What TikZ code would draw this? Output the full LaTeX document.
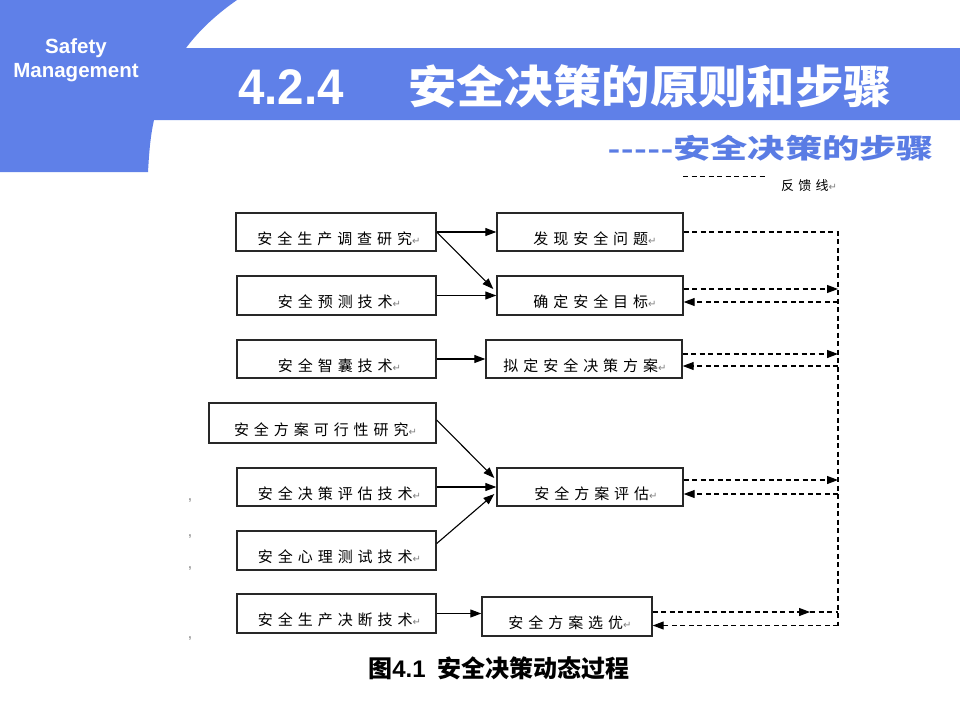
\documentclass[tikz,border=0pt]{standalone}
\usepackage{fontspec}
\setmainfont{Liberation Sans}
\newfontfamily\cjk{Noto Sans CJK SC}
\newfontfamily\cjkbox[LetterSpace=33]{Noto Sans CJK SC}
\newfontfamily\symf{DejaVu Sans}
\usetikzlibrary{arrows.meta,calc}
\definecolor{hdr}{RGB}{95,128,232}
\definecolor{subc}{RGB}{90,124,228}
\definecolor{boxline}{RGB}{40,40,40}
\newcommand{\ret}{\textcolor{gray}{\symf\fontsize{10}{10}\selectfont ↵}}
\newcommand{\lowtxt}[1]{\raisebox{-12pt}[0pt][0pt]{#1}}
\tikzset{
  box/.style={draw=boxline, line width=1.4pt, fill=white, inner sep=0pt,
    font=\cjkbox\fontsize{15}{15}\selectfont},
  arr/.style={line width=1.1pt, draw=black, -{Triangle[length=11pt,width=8pt]}},
  fbline/.style={line width=1.1pt, draw=black, dash pattern=on 5pt off 3.5pt},
  fbarr/.style={fbline, -{Triangle[length=11pt,width=8pt]}},
  stray/.style={text=gray!80, font=\bfseries\fontsize{12}{12}\selectfont}
}
\begin{document}
\begin{tikzpicture}[x=1pt,y=-1pt]
\useasboundingbox (0,0) rectangle (960,720);
\fill[white] (0,0) rectangle (960,720);
% header shape
\fill[hdr] (0,0) -- (237,0) .. controls (214,16) and (198,32) .. (186,48)
  -- (960,48) -- (960,120) -- (154,120) .. controls (150,138) and (149,155) .. (148,172)
  -- (0,172) -- cycle;
\node[align=center, text=white, font=\bfseries\fontsize{20.5}{25}\selectfont] (sm) at (76,60) {Safety\\[-1pt]Management};
\node[text=white, inner sep=0pt] (t1) at (291,87) {\scalebox{0.95}[1]{\bfseries\fontsize{50}{50}\selectfont 4.2.4}};
\node[text=white, inner sep=0pt] (t2) at (650,86) {\scalebox{1.075}[1]{\cjk\bfseries\fontsize{45}{45}\selectfont 安全决策的原则和步骤}};
\node[text=subc, inner sep=0pt] (t3) at (771,148) {\scalebox{1.38}[1]{\bfseries\fontsize{27}{27}\selectfont {-}\kern0.6pt{-}\kern0.6pt{-}\kern0.6pt{-}\kern0.6pt{-}\cjk 安全决策的步骤}};
% legend
\coordinate (lg1) at (683,176);
\coordinate (lg2) at (765,176);
\draw[fbline, line width=0.9pt] (lg1) -- (lg2);
\node[inner sep=0pt, font=\cjkbox\fontsize{13}{13}\selectfont] (lgt) at (809,186) {反馈线\ret};
% left boxes
\node[box, minimum width=200pt, minimum height=38pt] (l1) at (336,232) {\lowtxt{\hspace*{6pt}安全生产调查研究\ret}};
\node[box, minimum width=199pt, minimum height=39pt] (l2) at (336.5,295.5) {\lowtxt{\hspace*{6pt}安全预测技术\ret}};
\node[box, minimum width=199pt, minimum height=38pt] (l3) at (336.5,359) {\lowtxt{\hspace*{6pt}安全智囊技术\ret}};
\node[box, minimum width=227pt, minimum height=40pt] (l4) at (322.5,423) {\lowtxt{\hspace*{6pt}安全方案可行性研究\ret}};
\node[box, minimum width=199pt, minimum height=38pt] (l5) at (336.5,487) {\lowtxt{\hspace*{6pt}安全决策评估技术\ret}};
\node[box, minimum width=199pt, minimum height=39pt] (l6) at (336.5,550.5) {\lowtxt{\hspace*{6pt}安全心理测试技术\ret}};
\node[box, minimum width=199pt, minimum height=39pt] (l7) at (336.5,613.5) {\lowtxt{\hspace*{6pt}安全生产决断技术\ret}};
% right boxes
\node[box, minimum width=186pt, minimum height=38pt] (rA) at (590,232) {\lowtxt{\hspace*{10pt}发现安全问题\ret}};
\node[box, minimum width=186pt, minimum height=39pt] (rB) at (590,295.5) {\lowtxt{\hspace*{10pt}确定安全目标\ret}};
\node[box, minimum width=196pt, minimum height=38pt] (rC) at (584,359) {\lowtxt{\hspace*{2pt}拟定安全决策方案\ret}};
\node[box, minimum width=186pt, minimum height=38pt] (rD) at (590,487) {\lowtxt{\hspace*{12pt}安全方案评估\ret}};
\node[box, minimum width=170pt, minimum height=39pt] (rE) at (567,616.5) {\lowtxt{\hspace*{6pt}安全方案选优\ret}};
% solid arrows
\draw[arr] (l1.east) -- (rA.west);
\draw[arr] (l1.east) -- ([xshift=-3pt,yshift=6.5pt]rB.west);
\draw[arr] (l2.east) -- (rB.west);
\draw[arr] (l3.east) -- (rC.west);
\draw[arr] ([yshift=3pt]l4.east) -- ([xshift=-2pt,yshift=9pt]rD.west);
\draw[arr] (l5.east) -- (rD.west);
\draw[arr] ([yshift=7pt]l6.east) -- ([xshift=-2pt,yshift=-7pt]rD.west);
\draw[arr] (l7.east) -- (l7.east -| rE.west);
% feedback lines
\coordinate (vt) at (838,232);
\coordinate (vb) at (838,625.5);
\draw[fbline] (rA.east) -- (vt) -- (vb);
\draw[fbarr] ([yshift=6.5pt]rB.east) -- ([yshift=6.5pt]rB.east -| vt);
\draw[fbarr] ([yshift=-6.5pt]rB.east -| vt) -- ([yshift=-6.5pt]rB.east);
\draw[fbarr] ([yshift=5pt]rC.east) -- ([yshift=5pt]rC.east -| vt);
\draw[fbarr] ([yshift=-7pt]rC.east -| vt) -- ([yshift=-7pt]rC.east);
\draw[fbarr] ([yshift=7pt]rD.east) -- ([yshift=7pt]rD.east -| vt);
\draw[fbarr] ([yshift=-7pt]rD.east -| vt) -- ([yshift=-7pt]rD.east);
\coordinate (ea) at (810,612);
\draw[fbarr] (rE.east |- ea) -- (ea);
\draw[fbline] (ea) -- (ea -| vt);
\draw[fbarr] (vb) -- (vb -| rE.east);
% stray marks
\node[stray] (s1) at (190,501) {,};
\node[stray] (s2) at (190,537) {,};
\node[stray] (s3) at (190,569) {,};
\node[stray] (s4) at (190,639) {,};
% caption
\node[inner sep=0pt] (cap) at (499,668) {\cjk\bfseries\fontsize{24}{24}\selectfont 图{\rmfamily\bfseries 4.1}\hspace{12pt}安全决策动态过程};
\end{tikzpicture}
\end{document}
